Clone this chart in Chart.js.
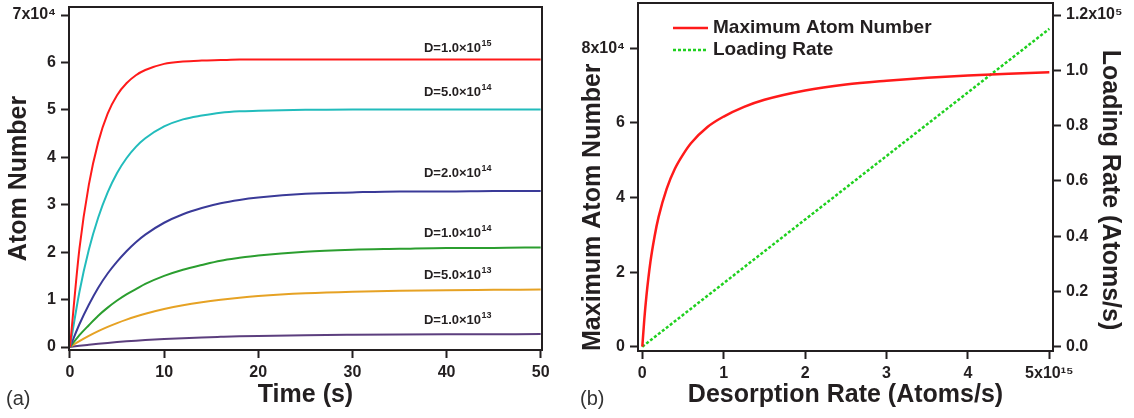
<!DOCTYPE html>
<html><head><meta charset="utf-8">
<script src="https://cdn.jsdelivr.net/npm/chart.js@4.4.1/dist/chart.umd.min.js"></script>
<style>
html,body{margin:0;padding:0;background:#fff;}
#wrap{position:relative;width:1134px;height:418px;overflow:hidden;}
.pane{position:absolute;top:0;width:567px;height:418px;}
</style></head><body>
<div id="wrap">
<div class="pane" style="left:0"><canvas id="ca" width="567" height="418"></canvas></div>
<div class="pane" style="left:567px"><canvas id="cb" width="567" height="418"></canvas></div>
</div>
<script>
// ---------- Panel (a): loading curves, atom number in units of 10^4 ----------
const timeS = [0,1,2,3,4,5,6,7,8,10,12,14,16,18,20,25,30,35,40,45,50];
const atomsD1e15 = [0,2.07,3.42,4.32,4.92,5.31,5.56,5.73,5.84,5.97,6.02,6.04,6.05,6.06,6.06,6.06,6.06,6.06,6.06,6.06,6.06];
const atomsD5e14 = [0,1.16,2.05,2.73,3.26,3.67,3.98,4.22,4.40,4.65,4.80,4.88,4.94,4.97,4.98,5.00,5.01,5.01,5.01,5.01,5.01];
const atomsD2e14 = [0,0.48,0.89,1.25,1.55,1.80,2.02,2.21,2.37,2.62,2.80,2.93,3.03,3.10,3.15,3.23,3.26,3.28,3.28,3.29,3.29];
const atomsD1e14 = [0,0.25,0.46,0.66,0.83,0.98,1.11,1.22,1.33,1.50,1.63,1.73,1.82,1.88,1.93,2.01,2.05,2.07,2.09,2.09,2.10];
const atomsD5e13 = [0,0.124,0.235,0.335,0.425,0.505,0.578,0.643,0.701,0.80,0.881,0.945,0.997,1.04,1.074,1.132,1.167,1.187,1.199,1.205,1.212];
const atomsD1e13 = [0,0.025,0.047,0.068,0.087,0.104,0.119,0.133,0.146,0.168,0.187,0.202,0.214,0.225,0.233,0.249,0.258,0.264,0.268,0.270,0.273];
const seriesMantissa = ['1.0','5.0','2.0','1.0','5.0','1.0'];
const seriesExponent = ['15','14','14','14','13','13'];
const xTicksA = [0,10,20,30,40,50];
const xTickLabelsA = ['0','10','20','30','40','50'];
const yTicksA = [0,1,2,3,4,5,6,7];
const yTickLabelsA = ['0','1','2','3','4','5','6','7x10\u2074'];

// ---------- Panel (b): vs desorption rate (units of 10^15 atoms/s) ----------
const desorptionRate = [0,0.025,0.05,0.1,0.15,0.2,0.3,0.4,0.5,0.6,0.8,1.0,1.25,1.5,2.0,2.5,3.0,3.5,4.0,4.5,5.0];
const maxAtomNumber = [0,0.75,1.35,2.28,2.95,3.48,4.24,4.77,5.15,5.46,5.89,6.17,6.43,6.62,6.87,7.03,7.13,7.21,7.27,7.32,7.36]; // x10^4
const loadingDesorp = [0,1,2,3,4,5];
const loadingRate = [0,0.23,0.46,0.69,0.92,1.15]; // x10^5 atoms/s
const xTicksB = [0,1,2,3,4,5];
const xTickLabelsB = ['0','1','2','3','4','5x10\u00b9\u2075'];
const yTicksB = [0,2,4,6,8];
const yTickLabelsB = ['0','2','4','6','8x10\u2074'];
const y2TicksB = [0,0.2,0.4,0.6,0.8,1.0,1.2];
const y2TickLabelsB = ['0.0','0.2','0.4','0.6','0.8','1.0','1.2x10\u2075'];

const FONT = '"Liberation Sans", Arial, Helvetica, sans-serif';
const INK = '#231f20';
const colorsA = ['#ff1a1a','#22bcbc','#3a3a98','#2b9e2f','#e6a224','#5c3f7e'];

function pts(xs, ys){ return xs.map((x,i)=>({x:x, y:ys[i]})); }
function tickGrid(){ return {display:true, drawOnChartArea:false, drawTicks:true, tickLength:8, tickWidth:2, tickColor:INK}; }
function setTicks(vals){ return s => { s.ticks = vals.map(v=>({value:v})); }; }
function fixSize(prop, val){ return s => { s[prop]=val; s.paddingTop=0; s.paddingBottom=0; s.paddingLeft=0; s.paddingRight=0; }; }
const tickFont = {size:16, weight:'bold', family:FONT};
const titleFont = {size:25, weight:'bold', family:FONT};

const framePlugin = {id:'frame', afterDatasetsDraw(chart){
  const a=chart.chartArea, c=chart.ctx; c.save(); c.strokeStyle=INK; c.lineWidth=2;
  c.strokeRect(a.left, a.top, a.right-a.left, a.bottom-a.top); c.restore(); }};

function panelLetter(text, x){
  return {id:'letter', afterDraw(chart){ const c=chart.ctx; c.save(); c.fillStyle='#333';
    c.font='20px '+FONT; c.textBaseline='alphabetic'; c.textAlign='left'; c.fillText(text, x, 405); c.restore(); }};
}

// labels D=... near the right end of each curve
const labelLift = [7.6, 13.3, 14, 10, 10.3, 9.7];
const dLabelPlugin = {id:'dlabels', afterDatasetsDraw(chart){
  const c=chart.ctx, xs=chart.scales.x, ys=chart.scales.y;
  c.save(); c.fillStyle=INK; c.textBaseline='alphabetic'; c.textAlign='left';
  chart.data.datasets.forEach((ds,i)=>{
    const last = ds.data[ds.data.length-1].y;
    const px = xs.getPixelForValue(37.6);
    const py = ys.getPixelForValue(last) - labelLift[i];
    c.font='bold 13px '+FONT;
    const main='D='+seriesMantissa[i]+'\u00d710';
    c.fillText(main, px, py);
    const w=c.measureText(main).width;
    c.font='bold 9px '+FONT;
    c.fillText(seriesExponent[i], px+w+0.5, py-6);
  });
  c.restore(); }};

const dsA = [atomsD1e15, atomsD5e14, atomsD2e14, atomsD1e14, atomsD5e13, atomsD1e13].map((arr,i)=>({
  data: pts(timeS, arr), borderColor: colorsA[i], borderWidth: 2, pointRadius: 0,
  cubicInterpolationMode: 'monotone', fill: false
}));

new Chart(document.getElementById('ca'), {
  type: 'line',
  data: { datasets: dsA },
  options: {
    responsive:false, animation:false, devicePixelRatio:1,
    layout:{padding:{top:7, right:25, left:0, bottom:0}},
    plugins:{legend:{display:false}, tooltip:{enabled:false}},
    scales:{
      x:{type:'linear', min:-0.106, max:50.14, afterBuildTicks:setTicks(xTicksA), afterFit:fixSize('height',68),
         ticks:{callback:(v,i)=>xTickLabelsA[i], font:tickFont, color:INK, padding:5, autoSkip:false, maxRotation:0},
         grid:tickGrid(), border:{display:false},
         title:{display:true, text:'Time (s)', font:titleFont, color:INK, padding:{top:0,bottom:8}}},
      y:{type:'linear', min:-0.063, max:7.169, afterBuildTicks:setTicks(yTicksA), afterFit:fixSize('width',69),
         ticks:{callback:(v,i)=>yTickLabelsA[i], font:tickFont, color:INK, padding:5, autoSkip:false},
         grid:tickGrid(), border:{display:false},
         title:{display:true, text:'Atom Number', font:titleFont, color:INK, padding:{top:4,bottom:0}}}
    }
  },
  plugins:[framePlugin, dLabelPlugin, panelLetter('(a)', 6)]
});

// ---------- panel b ----------
const legendPlugin = {id:'legendB', afterDatasetsDraw(chart){
  const c=chart.ctx, a=chart.chartArea; c.save();
  chart.data.datasets.forEach((ds,i)=>{
    const y = a.top + 25 + i*22;
    c.strokeStyle=ds.borderColor; c.lineWidth=ds.borderWidth; c.setLineDash(ds.borderDash||[]);
    c.beginPath(); c.moveTo(a.left+35, y); c.lineTo(a.left+70, y); c.stroke();
    c.setLineDash([]);
    c.fillStyle=INK; c.font='bold 19px '+FONT; c.textBaseline='middle'; c.textAlign='left';
    c.fillText(ds.label, a.left+75, y);
  });
  c.restore(); }};
const rightTitlePlugin = {id:'rtitle', afterDraw(chart){
  const c=chart.ctx; c.save(); c.translate(536, 190); c.rotate(Math.PI/2);
  c.fillStyle=INK; c.font='bold 25px '+FONT; c.textAlign='center'; c.textBaseline='alphabetic';
  c.fillText('Loading Rate (Atoms/s)', 0, 0); c.restore(); }};

new Chart(document.getElementById('cb'), {
  type:'line',
  data:{ datasets:[
    {label:'Maximum Atom Number', data:pts(desorptionRate, maxAtomNumber), yAxisID:'y', borderColor:'#ff1a1a', borderWidth:2.5, pointRadius:0, cubicInterpolationMode:'monotone', fill:false},
    {label:'Loading Rate', data:pts(loadingDesorp, loadingRate), yAxisID:'y2', borderColor:'#1fd01f', borderWidth:2.5, borderDash:[3,2], pointRadius:0, fill:false}
  ]},
  options:{
    responsive:false, animation:false, devicePixelRatio:1,
    layout:{padding:{top:3, right:0, left:0, bottom:0}},
    plugins:{legend:{display:false}, tooltip:{enabled:false}},
    scales:{
      x:{type:'linear', min:-0.053, max:5.045, afterBuildTicks:setTicks(xTicksB), afterFit:fixSize('height',67),
         ticks:{callback:(v,i)=>xTickLabelsB[i], font:tickFont, color:INK, padding:5, autoSkip:false, maxRotation:0},
         grid:tickGrid(), border:{display:false},
         title:{display:true, text:'Desorption Rate (Atoms/s)', font:titleFont, color:INK, padding:{top:0,bottom:8}}},
      y:{type:'linear', position:'left', min:-0.115, max:9.214, afterBuildTicks:setTicks(yTicksB), afterFit:fixSize('width',71),
         ticks:{callback:(v,i)=>yTickLabelsB[i], font:tickFont, color:INK, padding:5, autoSkip:false},
         grid:tickGrid(), border:{display:false},
         title:{display:true, text:'Maximum Atom Number', align:'start', font:titleFont, color:INK, padding:{top:11,bottom:0}}},
      y2:{type:'linear', position:'right', min:-0.0156, max:1.2435, afterBuildTicks:setTicks(y2TicksB), afterFit:fixSize('width',81),
         ticks:{callback:(v,i)=>y2TickLabelsB[i], font:tickFont, color:INK, padding:5, autoSkip:false},
         grid:tickGrid(), border:{display:false}}
    }
  },
  plugins:[framePlugin, legendPlugin, rightTitlePlugin, panelLetter('(b)', 13)]
});
</script>
</body></html>
